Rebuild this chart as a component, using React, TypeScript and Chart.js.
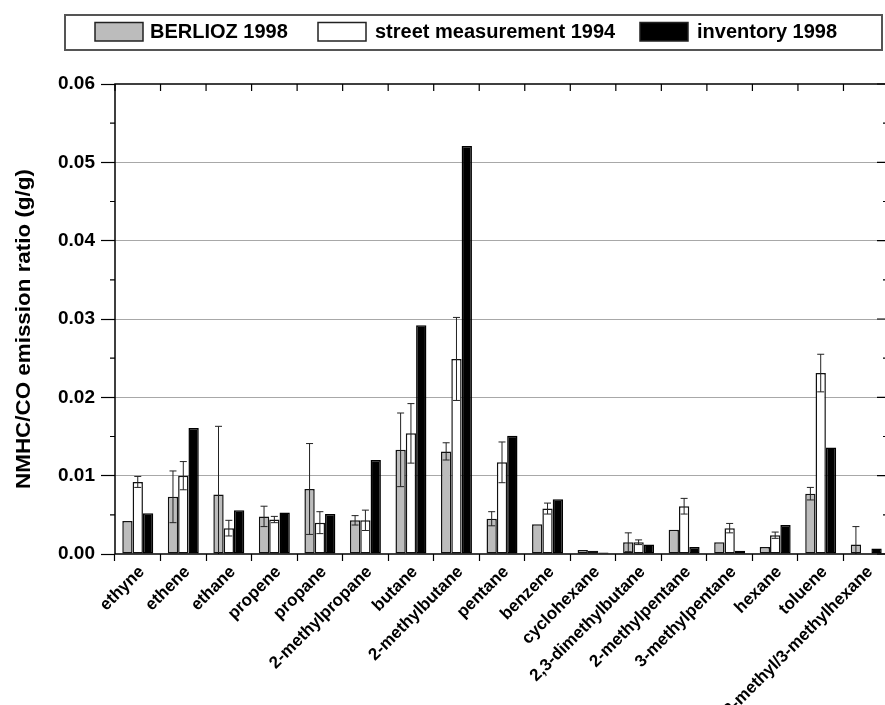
import React, { useEffect, useRef } from "react";
import { Chart, registerables } from "chart.js";

Chart.register(...registerables);

const categories = [
  "ethyne", "ethene", "ethane", "propene", "propane", "2-methylpropane", "butane",
  "2-methylbutane", "pentane", "benzene", "cyclohexane", "2,3-dimethylbutane",
  "2-methylpentane", "3-methylpentane", "hexane", "toluene", "2-methyl/3-methylhexane",
];

const berlioz1998 = [0.0042, 0.0073, 0.0076, 0.0048, 0.0083, 0.0043, 0.0133, 0.0131, 0.0045, 0.0038, 0.0005, 0.0015, 0.0031, 0.0015, 0.0009, 0.0077, 0.0012];
const berlioz1998Err = [0, 0.0033, 0.0087, 0.0013, 0.0058, 0.0006, 0.0047, 0.0011, 0.0009, 0, 0, 0.0012, 0, 0, 0, 0.0008, 0.0023];

const street1994 = [0.0092, 0.0100, 0.0033, 0.0044, 0.0040, 0.0043, 0.0154, 0.0249, 0.0117, 0.0058, 0.0004, 0.0015, 0.0061, 0.0033, 0.0024, 0.0231, null];
const street1994Err = [0.0007, 0.0018, 0.0010, 0.0004, 0.0014, 0.0013, 0.0038, 0.0053, 0.0026, 0.0007, 0, 0.0003, 0.0010, 0.0006, 0.0004, 0.0024, 0];

const inventory1998 = [0.0052, 0.0161, 0.0056, 0.0053, 0.0051, 0.0120, 0.0292, 0.0521, 0.0151, 0.0070, 0.0002, 0.0012, 0.0009, 0.0004, 0.0037, 0.0136, 0.0007];

const seriesNames = ["BERLIOZ 1998", "street measurement 1994", "inventory 1998"];
const yTitle = "NMHC/CO emission ratio (g/g)";
const yMin = 0;
const yMax = 0.06;
const yStep = 0.01;
const yMinorStep = 0.005;

const FONT = '"Liberation Sans", Arial, Helvetica, sans-serif';
const GRAY = "#bcbcbc";

const errorBarPlugin = {
  id: "errorBars",
  afterDatasetsDraw(chart: any) {
    const ctx = chart.ctx;
    const yScale = chart.scales.y;
    const area = chart.chartArea;
    const errs: any[] = [berlioz1998Err, street1994Err, null];
    ctx.save();
    ctx.beginPath();
    ctx.rect(area.left, area.top, area.right - area.left, area.bottom - area.top);
    ctx.clip();
    errs.forEach((arr, di) => {
      if (!arr) return;
      const meta = chart.getDatasetMeta(di);
      const data = chart.data.datasets[di].data;
      meta.data.forEach((bar: any, j: number) => {
        const v = data[j];
        const e = arr[j];
        if (v == null || !e) return;
        const x = bar.x;
        const yt = yScale.getPixelForValue(v + e);
        const yb = yScale.getPixelForValue(v - e);
        ctx.strokeStyle = "#222";
        ctx.lineWidth = 1;
        ctx.beginPath();
        ctx.moveTo(x, yt);
        ctx.lineTo(x, yb);
        ctx.moveTo(x - 3.5, yt);
        ctx.lineTo(x + 3.5, yt);
        ctx.moveTo(x - 3.5, yb);
        ctx.lineTo(x + 3.5, yb);
        ctx.stroke();
      });
    });
    ctx.restore();
  },
};

const framePlugin = {
  id: "frame",
  afterDraw(chart: any) {
    const ctx = chart.ctx;
    const { left, right, top, bottom } = chart.chartArea;
    const yScale = chart.scales.y;
    ctx.save();
    ctx.strokeStyle = "#000";
    ctx.lineWidth = 1.5;
    ctx.beginPath();
    ctx.rect(left, top, right - left, bottom - top);
    ctx.stroke();

    ctx.lineWidth = 1.2;
    ctx.beginPath();
    for (let v = yMin + yMinorStep; v < yMax; v += yStep) {
      const y = yScale.getPixelForValue(v);
      ctx.moveTo(left - 5, y);
      ctx.lineTo(left, y);
      ctx.moveTo(right - 6, y);
      ctx.lineTo(right, y);
    }
    for (let v = yMin; v <= yMax + 1e-9; v += yStep) {
      const y = yScale.getPixelForValue(v);
      ctx.moveTo(right - 12, y);
      ctx.lineTo(right, y);
    }
    const n = categories.length;
    const w = (right - left) / n;
    for (let i = 0; i <= n; i++) {
      const x = left + i * w;
      ctx.moveTo(x, top);
      ctx.lineTo(x, top + 7);
    }
    ctx.stroke();

    ctx.fillStyle = "#000";
    ctx.font = `bold 20px ${FONT}`;
    ctx.textAlign = "center";
    ctx.textBaseline = "middle";
    ctx.translate(24, 329);
    ctx.rotate(-Math.PI / 2);
    ctx.scale(1.12, 1);
    ctx.fillText(yTitle, 0, 0);
    ctx.restore();

    ctx.save();
    ctx.strokeStyle = "#555";
    ctx.lineWidth = 2;
    ctx.strokeRect(65, 15, 817, 35);
    const items = [
      { box: 95, text: 150, fill: GRAY },
      { box: 318, text: 375, fill: "#ffffff" },
      { box: 640, text: 697, fill: "#000000" },
    ];
    ctx.font = `bold 20px ${FONT}`;
    ctx.textAlign = "left";
    ctx.textBaseline = "middle";
    items.forEach((it, i) => {
      ctx.fillStyle = it.fill;
      ctx.fillRect(it.box, 22.5, 48, 18.5);
      ctx.strokeStyle = "#222";
      ctx.lineWidth = 1.5;
      ctx.strokeRect(it.box, 22.5, 48, 18.5);
      ctx.fillStyle = "#000";
      ctx.fillText(seriesNames[i], it.text, 32.5);
    });
    ctx.restore();
  },
};

export default function App() {
  const ref = useRef<HTMLCanvasElement | null>(null);

  useEffect(() => {
    if (!ref.current) return;
    const chart = new Chart(ref.current, {
      type: "bar",
      data: {
        labels: categories,
        datasets: [
          { label: seriesNames[0], data: berlioz1998, backgroundColor: GRAY, borderColor: "#111", borderWidth: 1.5, borderSkipped: false },
          { label: seriesNames[1], data: street1994 as any, backgroundColor: "#ffffff", borderColor: "#111", borderWidth: 1.5, borderSkipped: false },
          { label: seriesNames[2], data: inventory1998, backgroundColor: "#000000", borderColor: "#000", borderWidth: 1.5, borderSkipped: false },
        ],
      },
      options: {
        responsive: false,
        animation: false,
        layout: { padding: { top: 84, right: 6, left: 0, bottom: 0 } },
        plugins: { legend: { display: false }, tooltip: { enabled: false }, title: { display: false } },
        datasets: { bar: { categoryPercentage: 0.68, barPercentage: 1.0 } },
        scales: {
          x: {
            afterFit: (s: any) => { s.height = 151; },
            grid: { offset: true, drawOnChartArea: false, tickLength: 7, tickColor: "#000", tickWidth: 1.2 },
            border: { display: false },
            ticks: {
              autoSkip: false,
              minRotation: 45,
              maxRotation: 45,
              padding: 1,
              labelOffset: 4,
              color: "#000",
              font: { family: FONT, size: 17, weight: "bold" },
            },
          },
          y: {
            min: yMin,
            max: yMax,
            afterFit: (s: any) => { s.width = 115; },
            grid: {
              color: (c: any) => (c.tick && (c.tick.value <= yMin + 1e-9 || c.tick.value >= yMax - 1e-9) ? "rgba(0,0,0,0)" : "#a8a8a8"),
              lineWidth: 1,
              tickLength: 14,
              tickColor: "#000",
              tickWidth: 1.2,
            },
            border: { display: false },
            ticks: {
              stepSize: yStep,
              padding: 6,
              color: "#000",
              font: { family: FONT, size: 19, weight: "bold" },
              callback: (v: any) => Number(v).toFixed(2),
            },
          },
        },
      },
      plugins: [errorBarPlugin, framePlugin],
    } as any);
    return () => chart.destroy();
  }, []);

  return (
    <div style={{ position: "absolute", left: 0, top: 0, width: 885, height: 705, overflow: "hidden", background: "#fff" }}>
      <canvas ref={ref} width={895} height={705} style={{ display: "block" }} />
    </div>
  );
}
